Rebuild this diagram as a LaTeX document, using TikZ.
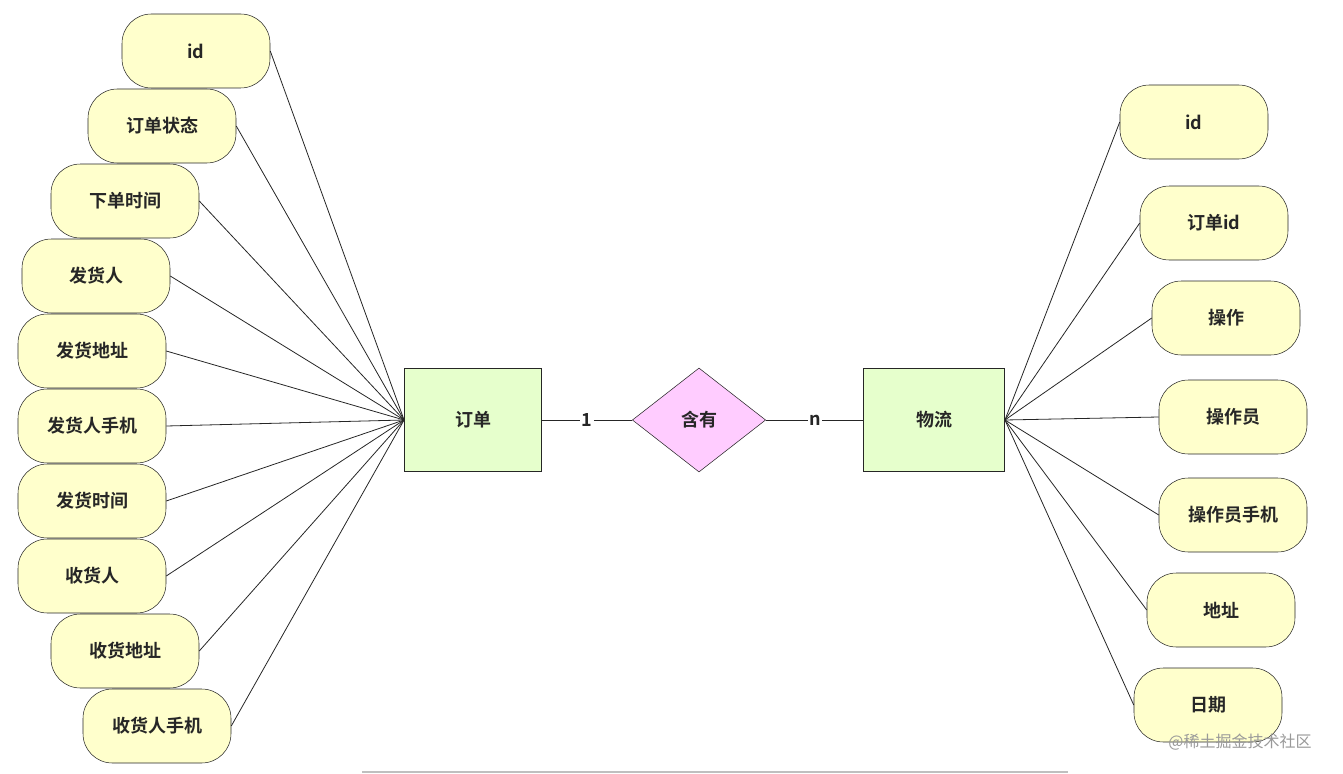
\documentclass[tikz,border=0pt]{standalone}
\usepackage{fontspec}
\setmainfont{Noto Sans CJK SC}[BoldFont={Noto Sans CJK SC Bold}]
\usetikzlibrary{shapes.geometric}
\definecolor{attrfill}{HTML}{FFFFCC}
\definecolor{entfill}{HTML}{E6FFCC}
\definecolor{relfill}{HTML}{FFCCFF}
\begin{document}
\begin{tikzpicture}[x=0.75pt,y=-0.75pt,
  txt/.style={font=\fontsize{13.5pt}{15pt}\selectfont\bfseries,text=black!85},
  attr/.style={txt,draw=black!85,fill=attrfill,rounded corners=22pt,minimum width=111pt,minimum height=55.5pt,inner sep=0pt},
  ent/.style={txt,draw=black!85,fill=entfill,minimum width=103pt,minimum height=77pt,inner sep=0pt},
  rel/.style={txt,draw=black!85,fill=relfill,diamond,aspect=1.29,minimum width=100pt,minimum height=78pt,inner sep=0pt},
  lnk/.style={draw=black!85,line width=0.6pt}]
\useasboundingbox (0,0) rectangle (1343,774);
\node[ent] (o) at (473,420) {订单};
\node[ent,minimum width=106pt] (w) at (934,420) {物流};
\node[rel] (r) at (699,420) {含有};
\node[txt,fill=white,inner sep=1pt] (one) at (587,420) {1};
\node[txt,fill=white,inner sep=1pt] (n) at (815,420) {n};
\draw[lnk] (o.east) -- (one) -- (r.west);
\draw[lnk] (r.east) -- (n) -- (w.west);
\foreach \nm/\x/\y/\t in {l1/196/51/id,l2/162/126/订单状态,l3/125/201/下单时间,l4/96/276/发货人,l5/92/351/发货地址,l6/92/426/发货人手机,l7/92/501/发货时间,l8/92/576/收货人,l9/125/651/收货地址,l10/157/726/收货人手机}{
  \node[attr] (\nm) at (\x,\y) {\t};
  \draw[lnk] (\nm.east) -- (o.west);
}
\foreach \nm/\x/\y/\t in {r1/1194/122/id,r2/1214/223/订单id,r3/1226/318/操作,r4/1233/417/操作员,r5/1233/515/操作员手机,r6/1221/610/地址,r7/1208/705/日期}{
  \node[attr] (\nm) at (\x,\y) {\t};
  \draw[lnk] (\nm.west) -- (w.east);
}
\node[font=\fontsize{12pt}{14pt}\selectfont,text=black!40] (wm) at (1240,742) {@稀土掘金技术社区};
\coordinate (b1) at (362,772); \coordinate (b2) at (1068,772);
\draw[black!25,line width=1pt] (b1) -- (b2);
\end{tikzpicture}
\end{document}
